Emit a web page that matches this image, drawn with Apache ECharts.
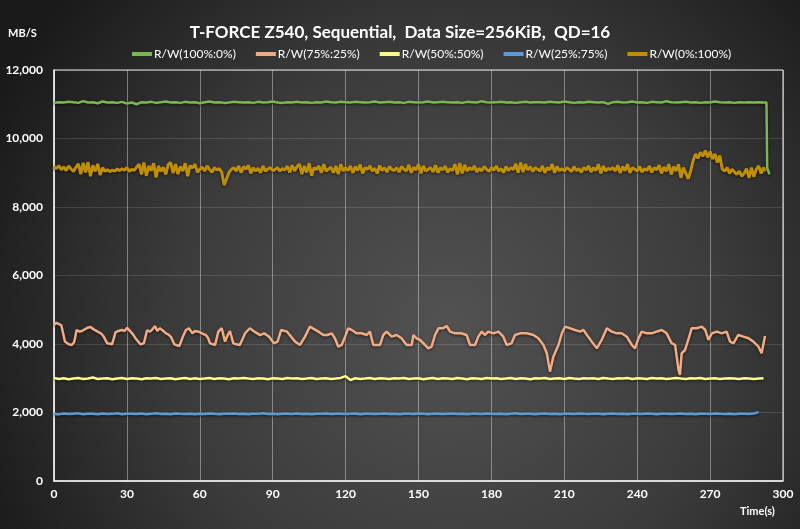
<!DOCTYPE html>
<html><head><meta charset="utf-8">
<script src="https://cdn.jsdelivr.net/npm/echarts@6/dist/echarts.min.js"></script>
<style>html,body{margin:0;padding:0;background:#222;}#c{width:800px;height:529px;}</style>
</head><body><div id="c"></div><script>
const chartTitle = 'T-FORCE Z540, Sequential,  Data Size=256KiB,  QD=16';
const yUnit = 'MB/S';
const xUnit = 'Time(s)';
const seriesNames = ['R/W(100%:0%)', 'R/W(75%:25%)', 'R/W(50%:50%)', 'R/W(25%:75%)', 'R/W(0%:100%)'];

// R/W(100%:0%) sampled every 2 s from 0 s
const readOnlyValues = [
 11040,11060,11050,11070,11060,11040,11090,11050,11060,11030,
 11080,11050,11060,11040,11070,11020,11050,11000,11060,11050,
 11070,11040,11060,11080,11050,11060,11040,11070,11050,11060,
 11030,11060,11080,11050,11060,11040,11050,11070,11060,11050,
 11060,11040,11070,11050,11060,11080,11050,11040,11060,11050,
 11070,11050,11060,11040,11060,11050,11080,11060,11050,11070,
 11060,11050,11070,11060,11050,11060,11080,11050,11060,11070,
 11050,11060,11040,11070,11060,11050,11060,11080,11050,11060,
 11070,11060,11050,11060,11040,11070,11060,11050,11090,11060,
 11050,11060,11070,11050,11060,11040,11060,11070,11050,11060,
 11060,11050,11070,11060,11050,11080,11060,11040,11060,11050,
 11070,11060,11050,11060,11010,11060,11070,11050,11060,11080,
 11050,11060,11040,11070,11060,11050,11090,11060,11050,11060,
 11070,11050,11060,11040,11060,11050,11080,11060,11050,11060,
 11040,11060,11050,11060,11050,11060,11050
];
const readOnlyTailTimes = [293.2, 293.5, 294.4];
const readOnlyTailValues = [11050, 9150, 8950];

// R/W(75%:25%) read at irregular times
const mix75Times = [0,1,2,3,4.5,6,7.3,8.3,9.3,10.5,11.5,13.4,14.9,16.5,18,19.5,20.5,21.9,23.9,25.3,26.5,28,29,30.1,31.5,32.5,33.5,35.6,37,38.3,39.5,40.5,41.6,42.5,43.5,44.5,46.1,47,48.1,49.5,51.6,53,54.3,55.5,57,58,59.5,60.9,62.5,63.5,64.2,66.3,67.6,69,70.4,71.5,72.4,73.8,75,76.5,78.6,80.6,82.5,84.8,86.5,88.5,90.5,92,93.5,95.9,97,99.2,101.2,103.3,105.3,106.5,108.8,110.8,112.5,114.3,115.6,117,118.4,119.8,121.1,122.5,124.5,126.5,128.7,130,131.4,134.2,135.5,136.9,139,141,143,145.1,147.2,147.9,149.2,150.6,152.7,154,155.4,156.8,158.2,160,161.6,163,165,167.5,169.8,171.2,173.3,174.6,176,177.3,178.7,180.8,182.9,184.9,186.3,188.3,189.7,191.8,194.5,197.3,199.3,201.4,202.8,204.1,205.5,207.6,209,210.3,212.4,214.4,216.5,217.9,219.3,221.3,223.4,225.4,227.5,229.5,231.6,233.6,235.7,237.8,239.1,240.5,241.9,244,246,248,250.1,252.1,254.2,255.6,257,257.6,258.3,259.7,261,262.4,264.5,266.6,268,269.3,270.7,272.8,274.8,276.8,278.2,279.6,281.6,283.7,285.8,287.8,289.9,291.2,292.6];
const mix75Values = [4560,4620,4580,4550,4070,3990,3970,4050,4410,4360,4380,4460,4500,4420,4360,4300,4210,4020,3990,4340,4380,4410,4380,4470,4360,4280,4170,3990,4020,4400,4360,4430,4520,4380,4460,4410,4310,4280,4210,3990,3940,4210,4410,4460,4310,4380,4360,4310,4260,4160,4020,3970,4360,4460,4070,4260,4380,4020,3990,3970,4310,4460,4360,4260,4310,4210,4020,4070,4410,4360,4263,4069,3971,4214,4506,4458,4361,4263,4263,4312,4166,3922,3971,4214,4458,4409,4312,4312,4263,4361,3971,3971,4263,4361,4214,4263,4166,3971,3971,4263,4166,4117,3971,3874,3922,4263,4458,4458,4526,4361,4312,4312,4263,3971,3971,4214,4361,4263,4361,4312,4361,4214,3971,4020,4263,4312,4312,4263,4166,3971,3728,3193,3630,3971,4312,4506,4458,4409,4361,4409,4263,4069,3874,4117,4458,4361,4312,4312,4214,3971,3874,4166,4361,4312,4312,4361,4409,4312,4020,3971,3241,3095,3728,3825,4117,4458,4458,4506,4409,4117,4312,4361,4312,4361,4069,4020,4263,4214,4166,4069,3922,3730,4234];

// R/W(50%:50%) sampled every 2 s from 0 s
const mix50Values = [
 3010,2980,3000,2970,2990,3010,2980,2990,3020,2980,
 2990,3000,2970,2990,3010,2980,3000,2990,2970,3000,
 2990,3010,2980,2990,3000,2970,2990,3010,2980,3000,
 2980,2990,3010,2980,3000,2990,2970,3000,2990,3010,
 2990,2980,3000,2990,2970,3000,2990,2980,3010,2990,
 3000,2980,2990,3010,2980,2990,3000,2980,2990,3010,
 3060,2950,3000,2980,2990,3010,2980,3000,2990,2980,
 3000,2990,3010,2980,2990,3000,2970,2990,3010,2980,
 3000,2990,2980,3010,2990,2970,3000,2990,2980,3010,
 2990,3000,2980,2990,3010,2980,3000,2990,2970,3000,
 2990,3010,2980,2990,3000,2980,3010,2990,2980,3000,
 2990,3000,2980,3010,2990,2980,3000,2990,3010,2980,
 3000,2990,2980,3010,2990,3000,2980,2990,3010,2990,
 2980,3000,2990,3010,2980,2990,3000,2980,2990,3000,
 2990,2980,3000,2990,2980,2990,3000
];

// R/W(25%:75%) sampled every 2 s from 0 s
const mix25Values = [
 1960,1945,1970,1955,1965,1975,1950,1965,1960,1950,
 1970,1955,1960,1980,1950,1965,1960,1955,1970,1950,
 1960,1975,1955,1960,1950,1970,1960,1955,1965,1950,
 1965,1955,1970,1960,1950,1965,1960,1970,1955,1960,
 1950,1965,1960,1975,1955,1960,1950,1965,1960,1955,
 1970,1955,1960,1950,1965,1960,1970,1955,1960,1965,
 1955,1960,1970,1950,1960,1965,1955,1960,1970,1955,
 1960,1950,1965,1960,1955,1970,1960,1950,1965,1960,
 1955,1960,1970,1955,1960,1950,1965,1960,1955,1970,
 1960,1955,1965,1950,1960,1975,1955,1960,1965,1950,
 1960,1970,1955,1960,1950,1965,1960,1955,1970,1960,
 1955,1960,1965,1950,1960,1970,1955,1960,1950,1965,
 1960,1955,1970,1960,1950,1965,1960,1955,1960,1970,
 1955,1960,1950,1965,1960,1955,1970,1960,1955,1960,
 1950,1965,1960,1955,1970,2010
];

// R/W(0%:100%) sampled every 1 s from 0 s
const writeOnlyValues = [
 9180,9120,9210,9090,9170,9060,9200,9110,9040,9160,
 9260,8960,9290,9010,9310,8900,9220,9040,9260,8930,
 9150,9040,9090,9030,9080,9050,9110,9060,9120,9070,
 9150,9040,9100,9070,9160,9250,8950,9300,8910,9200,
 9060,9280,8860,9200,9040,9160,8950,9240,9300,8990,
 9250,8960,9180,9050,9280,8900,9210,9140,9250,9010,
 9100,9160,9050,9200,9100,9010,9150,9080,9120,9020,
 8640,8820,9010,9100,9150,9050,9200,9000,9180,9100,
 9220,8980,9150,9050,9130,9000,9200,9050,9110,9150,
 9060,9100,9150,9050,9120,9080,9200,9010,9220,9050,
 9180,9250,8960,9200,9010,9280,8910,9150,9090,9200,
 9000,9250,9050,9110,9160,9000,9200,8960,9250,9050,
 9150,9060,9200,8990,9180,9070,9240,8980,9150,9100,
 9200,9050,9130,8980,9210,9060,9150,9020,9180,9100,
 9060,9150,9020,9180,9100,9050,9230,9000,9160,9080,
 9250,8980,9200,9050,9100,9150,9020,9220,9000,9150,
 9080,9200,9010,9120,9060,9250,8950,9280,8980,9230,
 9050,9150,9080,9200,9020,9130,9050,9180,9100,9040,
 9150,9070,9200,9050,9120,9000,9180,9060,9150,9090,
 9260,9000,9300,9020,9250,9080,9180,9030,9150,9100,
 9050,9200,9000,9150,9080,9250,9000,9180,9060,9120,
 9050,9150,9100,9030,9180,9060,9120,9010,9150,9080,
 9200,9020,9150,9060,9250,8980,9200,9050,9130,9090,
 9150,9050,9220,8990,9180,9060,9250,9000,9150,9100,
 9050,9180,9020,9120,9060,9200,9010,9150,9080,9220,
 8980,9170,9040,9250,8950,9180,9050,9250,8850,9150,
 8980,8820,9050,9350,9550,9420,9600,9480,9650,9450,
 9620,9400,9550,9300,9500,9100,9050,9150,8980,9100,
 9020,8950,9050,8900,8980,9120,8850,9150,8880,9100,
 9200,8980,9150,9050
];

const xTicks = [0, 30, 60, 90, 120, 150, 180, 210, 240, 270, 300];
const yTicks = [0, 2000, 4000, 6000, 8000, 10000, 12000];

const colors = ['#77b94f', '#f2ab82', '#fbfb8c', '#5b9bd5', '#bf8f00'];

function onGrid(values, step) {
  return values.map((v, i) => [i * step, v]);
}
function pairs(times, values) {
  return times.map((t, i) => [t, values[i]]);
}

const seriesData = [
  onGrid(readOnlyValues, 2).concat(pairs(readOnlyTailTimes, readOnlyTailValues)),
  pairs(mix75Times, mix75Values),
  onGrid(mix50Values, 2),
  onGrid(mix25Values, 2),
  onGrid(writeOnlyValues, 1)
];

const font = 'Lato, "Open Sans", sans-serif';
const chart = echarts.init(document.getElementById('c'), null, {renderer: 'canvas'});
chart.setOption({
  animation: false,
  backgroundColor: {
    type: 'radial', x: 0.56, y: 0.62, r: 0.95,
    colorStops: [{offset: 0, color: '#525252'}, {offset: 0.55, color: '#3b3b3b'}, {offset: 1, color: '#1a1a1a'}]
  },
  title: {
    text: chartTitle, left: 'center', top: 19,
    textStyle: {color: '#ffffff', fontFamily: font, fontWeight: 'bold', fontSize: 17}
  },
  legend: {
    data: seriesNames, left: 127, top: 43, itemGap: 20, itemWidth: 20, itemHeight: 4,
    icon: 'rect',
    textStyle: {color: '#ffffff', fontFamily: font, fontSize: 12, padding: [0, 0, 0, -3]}
  },
  graphic: [
    {type: 'text', left: 8, top: 28, style: {text: yUnit, fill: '#fff', font: 'bold 11px ' + font}},
    {type: 'text', left: 740, top: 506, style: {text: xUnit, fill: '#fff', font: 'bold 11px ' + font}}
  ],
  grid: {left: 54, right: 17, top: 70, bottom: 48, show: true, borderColor: '#e8e8e8', borderWidth: 1, backgroundColor: 'transparent'},
  xAxis: {
    type: 'value', min: xTicks[0], max: xTicks[xTicks.length - 1], interval: xTicks[1] - xTicks[0],
    axisLine: {lineStyle: {color: '#f0f0f0', width: 1.5}},
    axisTick: {show: false},
    axisLabel: {color: '#fff', fontFamily: font, fontWeight: 'bold', fontSize: 12, margin: 7},
    splitLine: {show: true, lineStyle: {color: 'rgba(255,255,255,0.38)', width: 1}}
  },
  yAxis: {
    type: 'value', min: yTicks[0], max: yTicks[yTicks.length - 1], interval: yTicks[1] - yTicks[0],
    axisLine: {show: true, lineStyle: {color: '#f0f0f0', width: 1.5}},
    axisTick: {show: false},
    axisLabel: {color: '#fff', fontFamily: font, fontWeight: 'bold', fontSize: 12, margin: 11,
      formatter: v => v.toLocaleString('en-US')},
    splitLine: {show: true, lineStyle: {color: 'rgba(255,255,255,0.13)', width: 1}}
  },
  series: seriesNames.map((name, i) => ({
    name, type: 'line', data: seriesData[i], showSymbol: false, symbol: 'none',
    color: colors[i],
    lineStyle: {color: colors[i], width: i === 4 ? 3 : 2.5,
      shadowColor: 'rgba(0,0,0,0.6)', shadowBlur: 3, shadowOffsetY: 1},
    z: i === 0 ? 3 : 2
  }))
});
</script></body></html>
